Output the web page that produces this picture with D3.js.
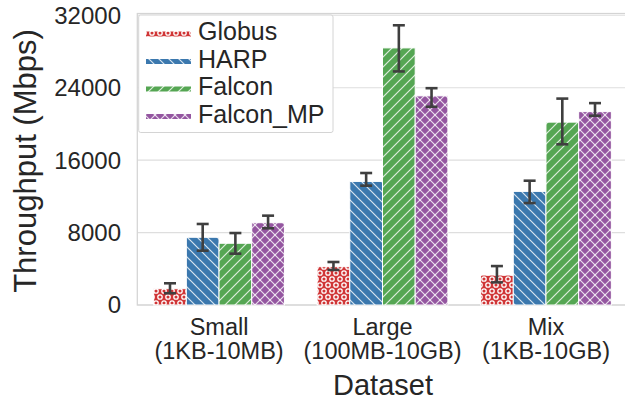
<!DOCTYPE html>
<html>
<head>
<meta charset="utf-8">
<script src="https://cdn.jsdelivr.net/npm/d3@7"></script>
<style>
  html, body { margin: 0; padding: 0; background: #fff; }
  svg { display: block; font-family: "Liberation Sans", Arial, sans-serif; }
</style>
</head>
<body>
<svg id="chart" width="625" height="400"></svg>
<script>
// ---- data ----
const categories = ["Small", "Large", "Mix"];
const categorySubLabels = ["(1KB-10MB)", "(100MB-10GB)", "(1KB-10GB)"];
const seriesNames = ["Globus", "HARP", "Falcon", "Falcon_MP"];
const globus    = [1800, 4230, 3310];
const harp      = [7480, 13650, 12550];
const falcon    = [6820, 28400, 20200];
const falconMP  = [9090, 23100, 21360];
const globusErrLow   = [1300, 3870, 2500];
const globusErrHigh  = [2400, 4750, 4300];
const harpErrLow     = [6000, 13180, 11260];
const harpErrHigh    = [8950, 14580, 13730];
const falconErrLow   = [5670, 25800, 17750];
const falconErrHigh  = [7950, 30900, 22800];
const falconMPErrLow = [8470, 21900, 20900];
const falconMPErrHigh= [9870, 23950, 22300];
const yTicks = [0, 8000, 16000, 24000, 32000];

const seriesValues = [globus, harp, falcon, falconMP];
const seriesLow = [globusErrLow, harpErrLow, falconErrLow, falconMPErrLow];
const seriesHigh = [globusErrHigh, harpErrHigh, falconErrHigh, falconMPErrHigh];
const colors = ["#d03536", "#3b78ae", "#55a653", "#9456a0"];
const patternIds = ["pat-o", "pat-back", "pat-fwd", "pat-x"];

// ---- layout ----
const svg = d3.select("#chart");
const plotL = 137.3, plotR = 627.7, plotT = 13.5, plotB = 305;

const x = d3.scaleBand().domain(categories).range([plotL, plotR]).paddingInner(0.2).paddingOuter(0.1);
const xs = d3.scaleBand().domain(seriesNames).range([0, x.bandwidth()]).padding(0);
const y = d3.scaleLinear().domain([0, 32200]).range([plotB, plotT]);

// ---- patterns ----
const defs = svg.append("defs");
function makeLinePattern(id, color, dirs) {
  const p = defs.append("pattern").attr("id", id).attr("patternUnits", "userSpaceOnUse")
    .attr("width", 10).attr("height", 10);
  p.append("rect").attr("width", 10).attr("height", 10).attr("fill", color);
  dirs.forEach(d => {
    const segs = d === "back"
      ? [[-1, -1, 11, 11], [-1, 9, 1, 11], [9, -1, 11, 1]]
      : [[-1, 11, 11, -1], [-1, 1, 1, -1], [9, 11, 11, 9]];
    segs.forEach(s => {
      p.append("line").attr("x1", s[0]).attr("y1", s[1]).attr("x2", s[2]).attr("y2", s[3])
        .attr("stroke", "rgba(255,255,255,0.8)").attr("stroke-width", 1.2);
    });
  });
}
(function () {
  const p = defs.append("pattern").attr("id", "pat-o").attr("patternUnits", "userSpaceOnUse")
    .attr("width", 8).attr("height", 12);
  p.append("rect").attr("width", 8).attr("height", 12).attr("fill", colors[0]);
  [[4, 3], [0, 9], [8, 9]].forEach(c => {
    p.append("circle").attr("cx", c[0]).attr("cy", c[1]).attr("r", 2.2)
      .attr("fill", "none").attr("stroke", "#fff").attr("stroke-width", 1.3);
  });
})();
makeLinePattern("pat-back", colors[1], ["back"]);
makeLinePattern("pat-fwd", colors[2], ["fwd"]);
makeLinePattern("pat-x", colors[3], ["back", "fwd"]);

// ---- grid ----
svg.append("g").selectAll("line").data(yTicks).join("line")
  .attr("x1", plotL).attr("x2", plotR)
  .attr("y1", d => y(d)).attr("y2", d => y(d))
  .attr("stroke", "#dedede").attr("stroke-width", 1.1);

// spines
svg.append("rect").attr("x", plotL).attr("y", plotT).attr("width", plotR - plotL).attr("height", plotB - plotT)
  .attr("fill", "none").attr("stroke", "#d4d4d4").attr("stroke-width", 1.25);

// ---- bars ----
const barData = [];
seriesNames.forEach((s, si) => {
  categories.forEach((c, ci) => {
    barData.push({ s, si, c, v: seriesValues[si][ci], lo: seriesLow[si][ci], hi: seriesHigh[si][ci] });
  });
});

svg.append("g").selectAll("rect").data(barData).join("rect")
  .attr("x", d => x(d.c) + xs(d.s))
  .attr("y", d => y(d.v))
  .attr("width", xs.bandwidth())
  .attr("height", d => y(0) - y(d.v))
  .attr("fill", d => `url(#${patternIds[d.si]})`)
  .attr("stroke", "#fff").attr("stroke-width", 1);

// ---- error bars ----
const eg = svg.append("g").attr("stroke", "#3f3f3f").attr("stroke-width", 2.6);
barData.forEach(d => {
  const cx = x(d.c) + xs(d.s) + xs.bandwidth() / 2;
  eg.append("line").attr("x1", cx).attr("x2", cx).attr("y1", y(d.lo)).attr("y2", y(d.hi));
  [d.lo, d.hi].forEach(v => {
    eg.append("line").attr("x1", cx - 6).attr("x2", cx + 6).attr("y1", y(v)).attr("y2", y(v));
  });
});

// ---- y axis ticks ----
svg.append("g").selectAll("text").data(yTicks).join("text")
  .attr("x", 121).attr("y", d => y(d)).attr("dy", "0.35em")
  .attr("text-anchor", "end").attr("font-size", 24).attr("fill", "#262626")
  .text(d => d);

// ---- x axis ticks ----
const xt = svg.append("g").selectAll("g").data(categories).join("g")
  .attr("transform", d => `translate(${x(d) + x.bandwidth() / 2},0)`);
xt.append("text").attr("y", 334.5).attr("text-anchor", "middle").attr("font-size", 23.5)
  .attr("fill", "#262626").text(d => d);
xt.append("text").attr("y", 358.5).attr("text-anchor", "middle").attr("font-size", 23.5)
  .attr("fill", "#262626").text((d, i) => categorySubLabels[i]);

// ---- axis titles ----
svg.append("text").attr("x", (plotL + plotR) / 2 + 0.5).attr("y", 394.5).attr("text-anchor", "middle")
  .attr("font-size", 29).attr("fill", "#262626").text("Dataset");
svg.append("text").attr("transform", "translate(36,161) rotate(-90)").attr("text-anchor", "middle")
  .attr("font-size", 31).attr("fill", "#262626").text("Throughput (Mbps)");

// ---- legend ----
const lg = svg.append("g");
lg.append("rect").attr("x", 138.7).attr("y", 15).attr("width", 194.3).attr("height", 117.5)
  .attr("fill", "#fff").attr("stroke", "#d4d4d4").attr("stroke-width", 1).attr("rx", 2);
const legendBaselines = [40, 67.5, 95, 122.5];
seriesNames.forEach((s, i) => {
  lg.append("rect").attr("x", 146).attr("y", legendBaselines[i] - 8.5).attr("width", 45).attr("height", 5)
    .attr("fill", `url(#${patternIds[i]})`);
  lg.append("text").attr("x", 198).attr("y", legendBaselines[i]).attr("font-size", 25)
    .attr("fill", "#262626").text(s);
});
</script>
</body>
</html>
